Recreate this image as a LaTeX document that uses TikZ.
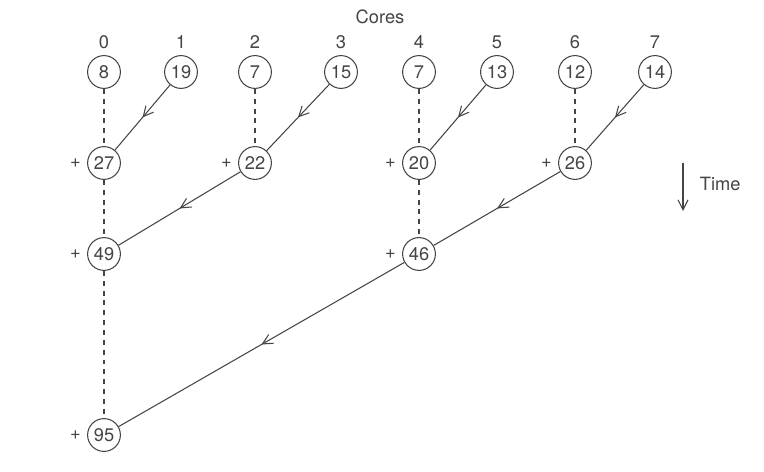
\documentclass[tikz,border=0pt]{standalone}
\usepackage{fontspec}
\setmainfont{TeX Gyre Heros}
\usetikzlibrary{arrows.meta, decorations.markings}
\definecolor{ink}{HTML}{454545}

\begin{document}
\begin{tikzpicture}[
    x=0.025cm, y=-0.025cm,
    every node/.style={text=ink, font=\fontsize{13}{15}\selectfont},
    val/.style={circle, draw=ink, line width=0.75pt, minimum size=0.82cm, inner sep=0pt},
    sum/.style={val, label={[label distance=1pt, text=ink]left:+}},
    carry/.style={draw=ink, line width=0.75pt, dash pattern=on 3.5pt off 3.5pt},
    send/.style={draw=ink, line width=0.75pt, postaction={decorate},
        decoration={markings, mark=at position 0.5 with {\arrow{Straight Barb[length=2.5mm, width=2.5mm]}}}}
]
\useasboundingbox (0,0) rectangle (764,472);

% Header
\node (cores) at (380,17) {Cores};

% Initial values, one per core
\node[val, label={[label distance=1pt]above:0}] (c0) at (104,72) {8};
\node[val, label={[label distance=1pt]above:1}] (c1) at (181,72) {19};
\node[val, label={[label distance=1pt]above:2}] (c2) at (255,72) {7};
\node[val, label={[label distance=1pt]above:3}] (c3) at (341,72) {15};
\node[val, label={[label distance=1pt]above:4}] (c4) at (419,72) {7};
\node[val, label={[label distance=1pt]above:5}] (c5) at (497,72) {13};
\node[val, label={[label distance=1pt]above:6}] (c6) at (575,72) {12};
\node[val, label={[label distance=1pt]above:7}] (c7) at (655,72) {14};

% First round of sums
\node[sum] (s0) at (104,163) {27};
\node[sum] (s2) at (255,163) {22};
\node[sum] (s4) at (419,163) {20};
\node[sum] (s6) at (575,163) {26};

% Second round
\node[sum] (t0) at (104,254) {49};
\node[sum] (t4) at (419,254) {46};

% Final sum
\node[sum] (total) at (104,435) {95};

% Time axis
\coordinate (timetop) at (683,163);
\coordinate (timebot) at (683,211);
\draw[draw=ink, line width=0.75pt, -{Straight Barb[length=2.5mm, width=2.5mm]}] (timetop) -- (timebot);
\node[anchor=west] (time) at (695,184) {Time};

% Local values kept
\draw[carry] (c0) -- (s0);
\draw[carry] (c2) -- (s2);
\draw[carry] (c4) -- (s4);
\draw[carry] (c6) -- (s6);
\draw[carry] (s0) -- (t0);
\draw[carry] (s4) -- (t4);
\draw[carry] (t0) -- (total);

% Values sent
\draw[send] (c1) -- (s0);
\draw[send] (c3) -- (s2);
\draw[send] (c5) -- (s4);
\draw[send] (c7) -- (s6);
\draw[send] (s2) -- (t0);
\draw[send] (s6) -- (t4);
\draw[send] (t4) -- (total);

\end{tikzpicture}
\end{document}
